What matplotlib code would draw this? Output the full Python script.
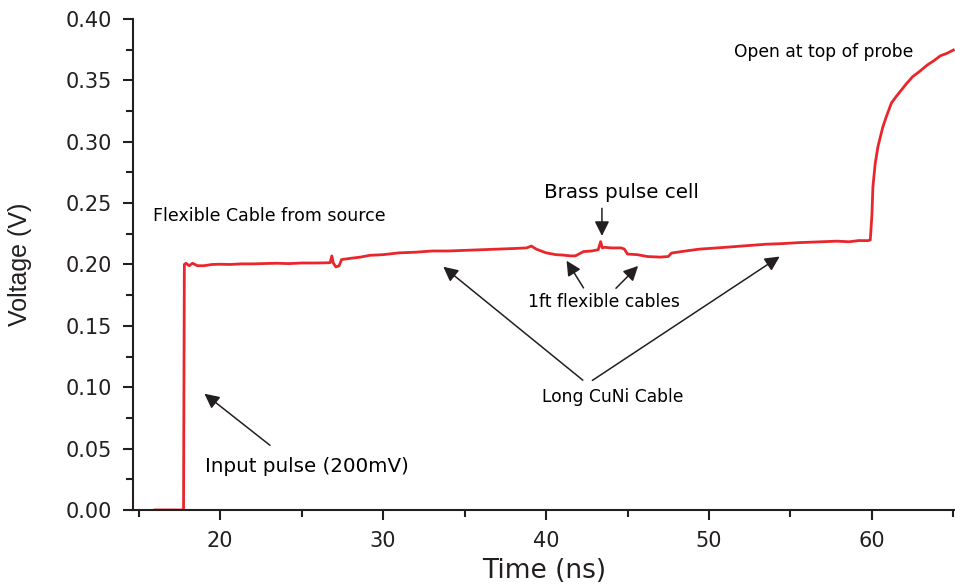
import numpy as np
import matplotlib.pyplot as plt
from matplotlib.ticker import MultipleLocator

plt.rcParams['font.family'] = ['DejaVu Sans']

# trace: time (ns) and voltage (V)
t = [16.0, 17.0, 17.75, 17.8, 17.9, 18.1, 18.3, 18.6, 19.0, 19.5, 20.0, 20.6,
     21.3, 22.0, 22.8, 23.5, 24.2, 25.0, 25.7, 26.4, 26.75, 26.85, 26.95, 27.1,
     27.3, 27.45, 28.0, 28.6, 29.2, 30.0, 31.0, 32.0, 33.0, 34.0, 35.0, 36.0,
     37.0, 38.0, 38.8, 39.1, 39.4, 40.0, 40.6, 41.0, 41.5, 41.8, 42.3, 42.8,
     43.2, 43.35, 43.45, 43.6, 44.0, 44.6, 44.8, 45.0, 45.6, 46.2, 47.0, 47.5,
     47.7, 48.3, 49.4, 50.5, 51.5, 52.5, 53.5, 54.5, 55.5, 56.5, 57.85, 58.6,
     59.2, 59.75, 59.9, 60.0, 60.06, 60.2, 60.37, 60.67, 60.9, 61.2, 61.5, 61.8,
     62.1, 62.5, 62.9, 63.4, 63.8, 64.2, 64.6, 65.0]
v = [0.0, 0.0, 0.0, 0.200, 0.201, 0.199, 0.201, 0.199, 0.199, 0.200, 0.2002, 0.200,
     0.2005, 0.2005, 0.2008, 0.201, 0.2007, 0.2012, 0.2012, 0.2013, 0.2015, 0.207, 0.201, 0.198,
     0.199, 0.204, 0.205, 0.206, 0.2075, 0.208, 0.2095, 0.210, 0.211, 0.211, 0.2115, 0.212,
     0.2125, 0.213, 0.2135, 0.215, 0.2125, 0.2095, 0.208, 0.2077, 0.207, 0.207, 0.2105, 0.211,
     0.212, 0.2186, 0.2135, 0.214, 0.2135, 0.2135, 0.2126, 0.2085, 0.208, 0.2065, 0.206, 0.2065,
     0.2093, 0.2105, 0.2125, 0.2135, 0.2145, 0.2155, 0.2165, 0.217, 0.2178, 0.2183, 0.219, 0.2185,
     0.2195, 0.2194, 0.220, 0.240, 0.263, 0.282, 0.296, 0.312, 0.321, 0.3316, 0.337, 0.342,
     0.347, 0.353, 0.357, 0.3625, 0.366, 0.370, 0.372, 0.3747]

fig = plt.figure(figsize=(9.55, 5.88), dpi=100)
ax = fig.add_axes([0.1393, 0.1327, 0.8607, 0.835])
ax.plot(t, v, color='#e8262b', lw=2.0)

ax.set_xlim(14.65, 65.1)
ax.set_ylim(0, 0.40)
ax.xaxis.set_major_locator(MultipleLocator(10))
ax.xaxis.set_minor_locator(MultipleLocator(5))
ax.yaxis.set_major_locator(MultipleLocator(0.05))
ax.yaxis.set_minor_locator(MultipleLocator(0.025))
ax.yaxis.set_major_formatter(plt.FormatStrFormatter('%.2f'))
ax.spines['top'].set_visible(False)
ax.spines['right'].set_visible(False)
for s in ['left', 'bottom']:
    ax.spines[s].set_linewidth(1.5)
    ax.spines[s].set_color('#231f20')
ax.tick_params(which='major', direction='out', length=7, width=1.5, labelsize=15,
               colors='#231f20', pad=8)
ax.tick_params(which='minor', direction='out', length=5, width=1.5, colors='#231f20')
ax.set_xlabel('Time (ns)', fontsize=19, labelpad=5, color='#231f20')
ax.set_ylabel('Voltage (V)', fontsize=18, labelpad=24, color='#231f20',
              family='Liberation Sans')

arr = dict(arrowstyle='-|>', color='#231f20', lw=1.1, mutation_scale=22)
ax.text(57.05, 0.373, 'Open at top of probe', fontsize=12.3, ha='center', va='center')
ax.text(15.9, 0.2395, 'Flexible Cable from source', fontsize=12.5, ha='left', va='center')
ax.text(44.6, 0.259, 'Brass pulse cell', fontsize=14.3, ha='center', va='center')
ax.annotate('', xy=(43.43, 0.221), xytext=(43.43, 0.248), arrowprops=arr)
ax.text(43.56, 0.1695, '1ft flexible cables', fontsize=12.3, ha='center', va='center')
ax.annotate('', xy=(41.17, 0.205), xytext=(42.39, 0.179), arrowprops=arr)
ax.annotate('', xy=(45.77, 0.2004), xytext=(44.17, 0.179), arrowprops=arr)
ax.text(44.1, 0.092, 'Long CuNi Cable', fontsize=12.3, ha='center', va='center')
ax.annotate('', xy=(33.56, 0.1996), xytext=(42.39, 0.1043), arrowprops=arr)
ax.annotate('', xy=(54.48, 0.2077), xytext=(42.7, 0.1043), arrowprops=arr)
ax.text(19.08, 0.0358, 'Input pulse (200mV)', fontsize=14.3, ha='left', va='center')
ax.annotate('', xy=(18.9, 0.0961), xytext=(23.19, 0.0513), arrowprops=arr)

fig.savefig('out.png', dpi=100)
